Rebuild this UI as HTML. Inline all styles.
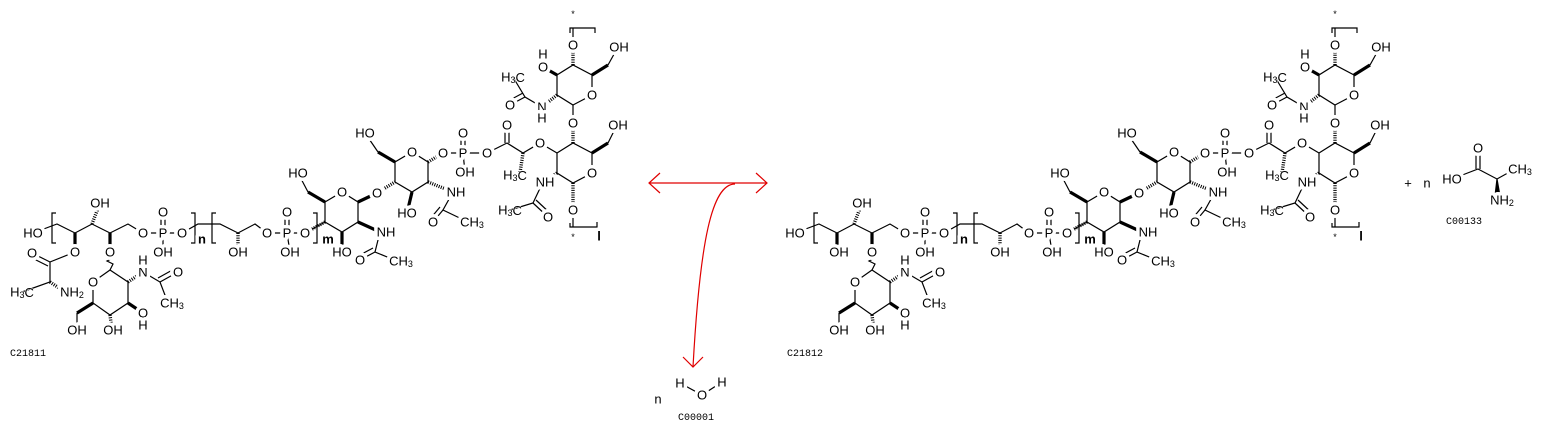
<!DOCTYPE html>
<html><head><meta charset="utf-8"><style>
html,body{margin:0;padding:0;background:#fff}
svg{display:block}
.b line,.b polyline,.b path,.b polygon{stroke:#000;stroke-width:1.2;fill:none}
.b .w{stroke-width:3.2}
.b .h{stroke-width:3.4;stroke-dasharray:1 1.3}
.t text{font-family:"Liberation Sans",sans-serif;font-size:13px;text-anchor:middle;dominant-baseline:central;fill:#000;stroke:#fff;stroke-width:7;paint-order:stroke;stroke-linejoin:round}
.t text tspan{stroke-width:1}
.t tspan.s{font-size:9px}
.id{font-family:"Liberation Mono",monospace;font-size:10px;fill:#000}
</style></head><body>
<svg width="1545" height="430" viewBox="0 0 1545 430" xmlns="http://www.w3.org/2000/svg">

<!-- LEFT MOLECULE -->
<g>
<g class="b">
<polyline points="33,233 57,224 75,233 92,224 110,233 128,224 143,233 163,233 182,233 198,224 220,224 238,233 255,224 267,233 287,233 305,233 325,222"/>
<line class="w" x1="75" y1="233" x2="75" y2="252"/>
<line class="h" x1="92" y1="224" x2="100" y2="203"/>
<line class="w" x1="110" y1="233" x2="110" y2="252"/>
<line x1="161" y1="233" x2="161" y2="212"/><line x1="165" y1="233" x2="165" y2="212"/>
<line x1="163" y1="233" x2="163" y2="252"/>
<line class="h" x1="238" y1="233" x2="238" y2="252"/>
<line x1="285" y1="233" x2="285" y2="212"/><line x1="289" y1="233" x2="289" y2="212"/>
<line x1="287" y1="233" x2="290" y2="252"/>
<path d="M56,213 H52 V243 H56"/><path d="M191,213 H195 V243 H191"/>
<path d="M216,213 H212 V243 H216"/><path d="M313,213 H317 V243 H313"/>
<polyline points="75,252 50,262 50,282 22,292"/>
<line x1="50" y1="262" x2="32" y2="253"/><line x1="48" y1="266" x2="30" y2="257"/>
<line class="h" x1="50" y1="282" x2="65" y2="292"/>
<path d="M110,252 l-3,3 l6,3 l-6,3 l6,3 l-3,6"/>
<polygon points="110,270 128,282 128,303 110,315 93,303 93,282"/>
<line class="w" x1="93" y1="303" x2="77" y2="313"/><line x1="77" y1="313" x2="77" y2="330"/>
<line class="h" x1="110" y1="315" x2="112" y2="330"/>
<line class="w" x1="128" y1="303" x2="143" y2="313"/>
<line class="h" x1="128" y1="282" x2="143" y2="272"/>
<polyline points="143,272 160,282 168,303"/>
<line x1="160" y1="282" x2="178" y2="272"/><line x1="158" y1="278" x2="176" y2="268"/>
<polygon points="325,202 342,192 358,202 358,222 342,232 325,222"/>
<line class="w" x1="325" y1="202" x2="308" y2="192"/><line x1="308" y1="192" x2="298" y2="173"/>
<line class="w" x1="358" y1="202" x2="377" y2="193"/>
<line class="w" x1="358" y1="222" x2="380" y2="232"/>
<polyline points="380,232 375,252 397,261"/>
<line x1="375" y1="252" x2="360" y2="260"/><line x1="373" y1="248" x2="358" y2="256"/>
<line class="w" x1="342" y1="232" x2="342" y2="252"/>
<line class="h" x1="325" y1="222" x2="305" y2="233"/>
<polygon points="395,182 395,162 412,152 428,162 428,182 412,192"/>
<line class="h" x1="377" y1="193" x2="395" y2="182"/>
<line class="w" x1="395" y1="162" x2="378" y2="152"/><line x1="378" y1="152" x2="365" y2="133"/>
<line class="h" x1="428" y1="162" x2="443" y2="153"/>
<polyline points="443,153 463,153 487,153 507,143 523,153 540,143 557,153"/>
<line x1="461" y1="153" x2="461" y2="133"/><line x1="465" y1="153" x2="465" y2="133"/>
<line x1="463" y1="153" x2="465" y2="172"/>
<line x1="505" y1="143" x2="505" y2="125"/><line x1="509" y1="143" x2="509" y2="125"/>
<line class="h" x1="523" y1="153" x2="520" y2="173"/>
<line class="h" x1="428" y1="182" x2="453" y2="192"/>
<polyline points="453,192 443,210 468,222"/>
<line x1="443" y1="210" x2="433" y2="222"/><line x1="440" y1="207" x2="430" y2="219"/>
<line class="w" x1="412" y1="192" x2="407" y2="213"/>
<polygon points="557,153 573,143 592,153 592,173 573,183 557,173"/>
<line class="w" x1="592" y1="153" x2="608" y2="143"/><line x1="608" y1="143" x2="617" y2="125"/>
<line class="h" x1="573" y1="143" x2="573" y2="123"/><line x1="573" y1="123" x2="573" y2="105"/>
<line class="h" x1="557" y1="173" x2="543" y2="182"/>
<polyline points="543,182 533,203 510,210"/>
<line x1="533" y1="203" x2="548" y2="217"/><line x1="536" y1="200" x2="551" y2="214"/>
<line class="h" x1="573" y1="183" x2="573" y2="210"/><line x1="573" y1="210" x2="573" y2="227"/>
<path d="M570,223 V227 H597 V222"/>
<polygon points="573,105 592,95 592,75 573,65 557,75 557,95"/>
<line class="w" x1="592" y1="75" x2="608" y2="65"/><line x1="608" y1="65" x2="618" y2="47"/>
<line class="h" x1="573" y1="65" x2="573" y2="45"/><line x1="573" y1="45" x2="573" y2="28"/>
<path d="M570,33 V28 H595 V33"/>
<line class="w" x1="557" y1="75" x2="543" y2="67"/>
<line class="h" x1="557" y1="95" x2="542" y2="107"/>
<polyline points="542,107 525,97 513,77"/>
<line x1="525" y1="97" x2="510" y2="105"/><line x1="523" y1="93" x2="508" y2="101"/>
</g>
<g class="t">
<text x="33" y="233">HO</text><text x="100" y="203">OH</text>
<text x="75" y="252">O</text><text x="110" y="252">O</text>
<text x="143" y="233">O</text><text x="163" y="233">P</text><text x="163" y="212">O</text><text x="163" y="252">OH</text><text x="182" y="233">O</text>
<text x="202" y="239" style="font-weight:bold">n</text>
<text x="238" y="252">OH</text>
<text x="267" y="233">O</text><text x="287" y="233">P</text><text x="287" y="212">O</text><text x="290" y="252">OH</text><text x="305" y="233">O</text>
<text x="328" y="239" style="font-weight:bold">m</text>
<text x="32" y="253">O</text>
<text x="22" y="292">H<tspan class="s" dy="3">3</tspan><tspan dy="-3">C</tspan></text>
<text x="72" y="292">NH<tspan class="s" dy="3">2</tspan></text>
<text x="93" y="282">O</text>
<text x="77" y="330">OH</text><text x="113" y="330">OH</text>
<text x="143" y="313">O</text><text x="143" y="325">H</text>
<text x="143" y="272">N</text><text x="143" y="260">H</text>
<text x="178" y="272">O</text>
<text x="172" y="303">CH<tspan class="s" dy="3">3</tspan></text>
<text x="342" y="192">O</text><text x="298" y="173">HO</text><text x="377" y="193">O</text>
<text x="386" y="232">NH</text><text x="360" y="260">O</text>
<text x="401" y="261">CH<tspan class="s" dy="3">3</tspan></text>
<text x="342" y="252">HO</text>
<text x="412" y="152">O</text><text x="365" y="133">HO</text>
<text x="443" y="153">O</text><text x="463" y="153">P</text><text x="463" y="133">O</text><text x="465" y="172">OH</text>
<text x="487" y="153">O</text><text x="507" y="125">O</text>
<text x="515" y="175">H<tspan class="s" dy="3">3</tspan><tspan dy="-3">C</tspan></text>
<text x="540" y="143">O</text>
<text x="456" y="192">NH</text><text x="433" y="222">O</text>
<text x="472" y="222">CH<tspan class="s" dy="3">3</tspan></text>
<text x="407" y="213">HO</text>
<text x="592" y="173">O</text><text x="618" y="125">OH</text><text x="573" y="123">O</text>
<text x="545" y="182">NH</text><text x="548" y="217">O</text>
<text x="510" y="210">H<tspan class="s" dy="3">3</tspan><tspan dy="-3">C</tspan></text>
<text x="573" y="210">O</text>
<text x="573" y="237" style="font-size:9px">*</text><text x="599" y="236" style="font-weight:bold">l</text>
<text x="592" y="95">O</text><text x="619" y="47">OH</text><text x="573" y="45">O</text>
<text x="573" y="14" style="font-size:9px">*</text>
<text x="543" y="67">O</text><text x="543" y="54">H</text>
<text x="542" y="107">N</text><text x="542" y="118">H</text>
<text x="510" y="105">O</text>
<text x="513" y="77">H<tspan class="s" dy="3">3</tspan><tspan dy="-3">C</tspan></text>
</g>
<text class="id" x="10" y="356">C21811</text>
</g>

<!-- RIGHT MOLECULE -->
<g transform="translate(762,0)">
<g class="b">
<polyline points="33,233 57,224 75,233 92,224 110,233 128,224 143,233 163,233 182,233 198,224 220,224 238,233 255,224 267,233 287,233 305,233 325,222"/>
<line class="w" x1="75" y1="233" x2="75" y2="252"/>
<line class="h" x1="92" y1="224" x2="100" y2="203"/>
<line class="w" x1="110" y1="233" x2="110" y2="252"/>
<line x1="161" y1="233" x2="161" y2="212"/><line x1="165" y1="233" x2="165" y2="212"/>
<line x1="163" y1="233" x2="163" y2="252"/>
<line class="h" x1="238" y1="233" x2="238" y2="252"/>
<line x1="285" y1="233" x2="285" y2="212"/><line x1="289" y1="233" x2="289" y2="212"/>
<line x1="287" y1="233" x2="290" y2="252"/>
<path d="M56,213 H52 V243 H56"/><path d="M191,213 H195 V243 H191"/>
<path d="M216,213 H212 V243 H216"/><path d="M313,213 H317 V243 H313"/>
<path d="M110,252 l-3,3 l6,3 l-6,3 l6,3 l-3,6"/>
<polygon points="110,270 128,282 128,303 110,315 93,303 93,282"/>
<line class="w" x1="93" y1="303" x2="77" y2="313"/><line x1="77" y1="313" x2="77" y2="330"/>
<line class="h" x1="110" y1="315" x2="112" y2="330"/>
<line class="w" x1="128" y1="303" x2="143" y2="313"/>
<line class="h" x1="128" y1="282" x2="143" y2="272"/>
<polyline points="143,272 160,282 168,303"/>
<line x1="160" y1="282" x2="178" y2="272"/><line x1="158" y1="278" x2="176" y2="268"/>
<polygon points="325,202 342,192 358,202 358,222 342,232 325,222"/>
<line class="w" x1="325" y1="202" x2="308" y2="192"/><line x1="308" y1="192" x2="298" y2="173"/>
<line class="w" x1="358" y1="202" x2="377" y2="193"/>
<line class="w" x1="358" y1="222" x2="380" y2="232"/>
<polyline points="380,232 375,252 397,261"/>
<line x1="375" y1="252" x2="360" y2="260"/><line x1="373" y1="248" x2="358" y2="256"/>
<line class="w" x1="342" y1="232" x2="342" y2="252"/>
<line class="h" x1="325" y1="222" x2="305" y2="233"/>
<polygon points="395,182 395,162 412,152 428,162 428,182 412,192"/>
<line class="h" x1="377" y1="193" x2="395" y2="182"/>
<line class="w" x1="395" y1="162" x2="378" y2="152"/><line x1="378" y1="152" x2="365" y2="133"/>
<line class="h" x1="428" y1="162" x2="443" y2="153"/>
<polyline points="443,153 463,153 487,153 507,143 523,153 540,143 557,153"/>
<line x1="461" y1="153" x2="461" y2="133"/><line x1="465" y1="153" x2="465" y2="133"/>
<line x1="463" y1="153" x2="465" y2="172"/>
<line x1="505" y1="143" x2="505" y2="125"/><line x1="509" y1="143" x2="509" y2="125"/>
<line class="h" x1="523" y1="153" x2="520" y2="173"/>
<line class="h" x1="428" y1="182" x2="453" y2="192"/>
<polyline points="453,192 443,210 468,222"/>
<line x1="443" y1="210" x2="433" y2="222"/><line x1="440" y1="207" x2="430" y2="219"/>
<line class="w" x1="412" y1="192" x2="407" y2="213"/>
<polygon points="557,153 573,143 592,153 592,173 573,183 557,173"/>
<line class="w" x1="592" y1="153" x2="608" y2="143"/><line x1="608" y1="143" x2="617" y2="125"/>
<line class="h" x1="573" y1="143" x2="573" y2="123"/><line x1="573" y1="123" x2="573" y2="105"/>
<line class="h" x1="557" y1="173" x2="543" y2="182"/>
<polyline points="543,182 533,203 510,210"/>
<line x1="533" y1="203" x2="548" y2="217"/><line x1="536" y1="200" x2="551" y2="214"/>
<line class="h" x1="573" y1="183" x2="573" y2="210"/><line x1="573" y1="210" x2="573" y2="227"/>
<path d="M570,223 V227 H597 V222"/>
<polygon points="573,105 592,95 592,75 573,65 557,75 557,95"/>
<line class="w" x1="592" y1="75" x2="608" y2="65"/><line x1="608" y1="65" x2="618" y2="47"/>
<line class="h" x1="573" y1="65" x2="573" y2="45"/><line x1="573" y1="45" x2="573" y2="28"/>
<path d="M570,33 V28 H595 V33"/>
<line class="w" x1="557" y1="75" x2="543" y2="67"/>
<line class="h" x1="557" y1="95" x2="542" y2="107"/>
<polyline points="542,107 525,97 513,77"/>
<line x1="525" y1="97" x2="510" y2="105"/><line x1="523" y1="93" x2="508" y2="101"/>
</g>
<g class="t">
<text x="33" y="233">HO</text><text x="100" y="203">OH</text>
<text x="77" y="252">OH</text><text x="110" y="252">O</text>
<text x="143" y="233">O</text><text x="163" y="233">P</text><text x="163" y="212">O</text><text x="163" y="252">OH</text><text x="182" y="233">O</text>
<text x="202" y="239" style="font-weight:bold">n</text>
<text x="238" y="252">OH</text>
<text x="267" y="233">O</text><text x="287" y="233">P</text><text x="287" y="212">O</text><text x="290" y="252">OH</text><text x="305" y="233">O</text>
<text x="328" y="239" style="font-weight:bold">m</text>
<text x="93" y="282">O</text>
<text x="77" y="330">OH</text><text x="113" y="330">OH</text>
<text x="143" y="313">O</text><text x="143" y="325">H</text>
<text x="143" y="272">N</text><text x="143" y="260">H</text>
<text x="178" y="272">O</text>
<text x="172" y="303">CH<tspan class="s" dy="3">3</tspan></text>
<text x="342" y="192">O</text><text x="298" y="173">HO</text><text x="377" y="193">O</text>
<text x="386" y="232">NH</text><text x="360" y="260">O</text>
<text x="401" y="261">CH<tspan class="s" dy="3">3</tspan></text>
<text x="342" y="252">HO</text>
<text x="412" y="152">O</text><text x="365" y="133">HO</text>
<text x="443" y="153">O</text><text x="463" y="153">P</text><text x="463" y="133">O</text><text x="465" y="172">OH</text>
<text x="487" y="153">O</text><text x="507" y="125">O</text>
<text x="515" y="175">H<tspan class="s" dy="3">3</tspan><tspan dy="-3">C</tspan></text>
<text x="540" y="143">O</text>
<text x="456" y="192">NH</text><text x="433" y="222">O</text>
<text x="472" y="222">CH<tspan class="s" dy="3">3</tspan></text>
<text x="407" y="213">HO</text>
<text x="592" y="173">O</text><text x="618" y="125">OH</text><text x="573" y="123">O</text>
<text x="545" y="182">NH</text><text x="548" y="217">O</text>
<text x="510" y="210">H<tspan class="s" dy="3">3</tspan><tspan dy="-3">C</tspan></text>
<text x="573" y="210">O</text>
<text x="573" y="237" style="font-size:9px">*</text><text x="599" y="236" style="font-weight:bold">l</text>
<text x="592" y="95">O</text><text x="619" y="47">OH</text><text x="573" y="45">O</text>
<text x="573" y="14" style="font-size:9px">*</text>
<text x="543" y="67">O</text><text x="543" y="54">H</text>
<text x="542" y="107">N</text><text x="542" y="118">H</text>
<text x="510" y="105">O</text>
<text x="513" y="77">H<tspan class="s" dy="3">3</tspan><tspan dy="-3">C</tspan></text>
</g>
<text class="id" x="25" y="356">C21812</text>
</g>

<!-- ARROWS -->
<g stroke="#e00000" stroke-width="1.2" fill="none">
<line x1="649" y1="183" x2="767" y2="183"/>
<polyline points="660,173 649,183 660,193"/>
<polyline points="756,173 767,183 756,193"/>
<path d="M735,184 C712,184 700,240 693,367"/>
<polyline points="683,357 693,367 703,357"/>
</g>

<!-- WATER -->
<g class="b"><polyline points="680,383 702,395 722,382"/></g>
<g class="t">
<text x="680" y="383">H</text><text x="702" y="395">O</text><text x="722" y="382">H</text>
<text x="658" y="399">n</text>
</g>
<text class="id" x="678" y="420">C00001</text>

<!-- ALANINE -->
<g class="b">
<polyline points="1452,179 1478,169 1497,179 1515,169"/>
<line x1="1476" y1="169" x2="1476" y2="148"/><line x1="1480" y1="169" x2="1480" y2="148"/>
<polygon points="1497,179 1495,196 1500,196" style="fill:#000"/>
</g>
<g class="t">
<text x="1408" y="183">+</text><text x="1427" y="183">n</text>
<text x="1452" y="179">HO</text><text x="1478" y="148">O</text>
<text x="1520" y="169">CH<tspan class="s" dy="3">3</tspan></text>
<text x="1502" y="200">NH<tspan class="s" dy="3">2</tspan></text>
</g>
<text class="id" x="1446" y="224">C00133</text>
</svg>
</body></html>
